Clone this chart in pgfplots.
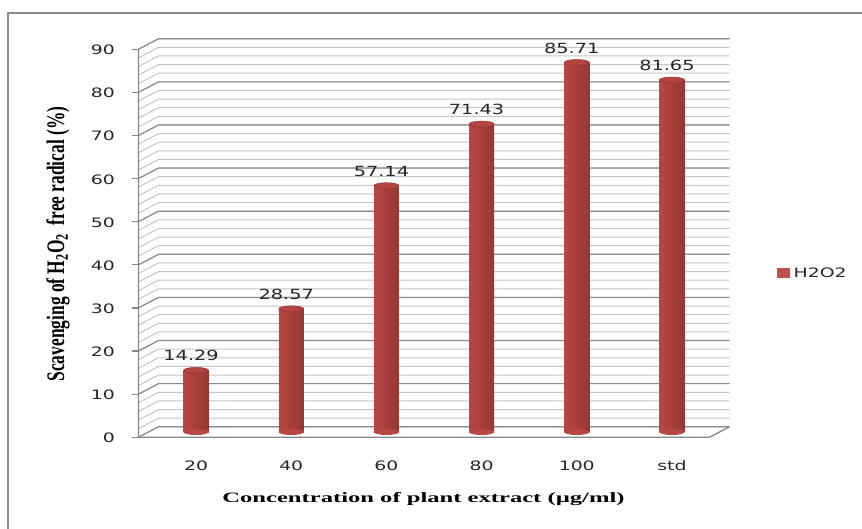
\documentclass[border=0pt]{standalone}
\usepackage{fontspec}
\setmainfont{DejaVu Sans}
\newfontfamily\tnr{Liberation Serif}
\usepackage{graphicx}
\usepackage{pgfplots}
\pgfplotsset{compat=1.18}

\definecolor{labelgray}{RGB}{38,38,38}
\definecolor{axisgray}{RGB}{134,134,134}
\definecolor{majorgrid}{RGB}{140,140,140}
\definecolor{minorgrid}{RGB}{196,196,196}
\definecolor{frame}{RGB}{140,140,140}
\definecolor{barbase}{RGB}{192,80,77}
\definecolor{barleft}{RGB}{184,70,66}
\definecolor{barmid}{RGB}{220,98,94}
\definecolor{barright}{RGB}{150,56,53}
\definecolor{capfill}{RGB}{180,68,65}
\definecolor{capdraw}{RGB}{150,54,51}

% cylinder caps
\pgfdeclareplotmark{captop}{%
  \pgfpathellipse{\pgfpointorigin}{\pgfqpoint{12.5pt}{0pt}}{\pgfqpoint{0pt}{3pt}}%
  \pgfusepathqfillstroke}
\pgfdeclareplotmark{capbot}{%
  \pgfpathellipse{\pgfpointorigin}{\pgfqpoint{12.5pt}{0pt}}{\pgfqpoint{0pt}{3pt}}%
  \pgfusepathqfill}

\newcommand\wide[1]{\scalebox{1.45}[1]{#1}}

\pgfplotsset{
  cylinder/.style={ybar, bar width=25pt, bar shift=0pt, draw=none,
    left color=barleft, middle color=barmid, right color=barright,
    nodes near coords={\scalebox{1.38}[1]{\pgfmathprintnumber[fixed,fixed zerofill,precision=2]{\pgfplotspointmeta}}},
    every node near coord/.style={anchor=center, yshift=14.5pt, xshift=-5pt,
      font=\fontsize{14}{16}\selectfont, text=labelgray, inner sep=0pt}},
}

\begin{document}
\begin{tikzpicture}
\path[use as bounding box] (0,0) rectangle (862pt,-529pt);
\draw[frame, line width=1.5pt] (8pt,-540pt) -- (8pt,-13pt) -- (870pt,-13pt);

\begin{axis}[
  at={(148.5pt,-432pt)}, anchor=south west,
  scale only axis, width=571pt, height=388pt,
  xmin=-0.5, xmax=5.5, ymin=0, ymax=90,
  clip=false,
  axis line style={draw=none},
  major tick length=0pt,
  /pgf/number format/assume math mode=true,
  xtick={0,...,5},
  xticklabels={\wide{20},\wide{40},\wide{60},\wide{80},\wide{100},\wide{std}},
  ytick={0,10,...,90},
  yticklabel={\wide{\pgfmathprintnumber{\tick}}},
  ticklabel style={font=\fontsize{13}{15}\selectfont, text=labelgray, inner sep=0pt},
  xticklabel style={anchor=center, yshift=-34pt},
  yticklabel style={anchor=east, xshift=-33.5pt, yshift=-6pt},
  xlabel={\scalebox{1.72}[1]{\tnr\bfseries Concentration of plant extract (µg/ml)}},
  ylabel={\scalebox{1}[1.45]{\tnr\bfseries Scavenging of H\textsubscript{2}O\textsubscript{2}\ \ free radical (\%)}},
  every axis x label/.style={at={(axis description cs:0.4816,-0.1727)}, anchor=center, font=\fontsize{14.3}{16}\selectfont, text=black},
  every axis y label/.style={at={(axis description cs:-0.1585,0.4845)}, anchor=center, rotate=90, font=\fontsize{17.4}{19}\selectfont, text=black},
  legend style={draw=none, fill=none, at={(axis description cs:1.1007,0.4098)}, anchor=west,
    font=\fontsize{13}{15}\selectfont, text=labelgray, inner sep=0pt,
    nodes={inner xsep=3.5pt, inner ysep=0pt}},
  legend image code/.code={\fill[left color=barbase, middle color=barbase, right color=barbase]
    (0pt,-4.5pt) rectangle (13pt,4.5pt);},
]

% side wall and back wall grid
\pgfplotsinvokeforeach{0,2,...,90}{
  \draw[minorgrid, line width=1pt]
    ([shift={(-10pt,-5.25pt)}]axis cs:-0.5,#1) --
    ([shift={(10pt,5.25pt)}]axis cs:-0.5,#1) --
    ([shift={(10pt,5.25pt)}]axis cs:5.5,#1);
}
\pgfplotsinvokeforeach{0,10,...,90}{
  \draw[majorgrid, line width=1.2pt]
    ([shift={(-10pt,-5.25pt)}]axis cs:-0.5,#1) --
    ([shift={(10pt,5.25pt)}]axis cs:-0.5,#1) --
    ([shift={(10pt,5.25pt)}]axis cs:5.5,#1);
  \draw[axisgray, line width=1.2pt]
    ([shift={(-10pt,-5.25pt)}]axis cs:-0.5,#1) -- ++(-7pt,0pt);
}
% front value axis and floor
\draw[axisgray, line width=1.3pt]
  ([shift={(-10pt,-5.25pt)}]axis cs:-0.5,90) --
  ([shift={(-10pt,-5.25pt)}]axis cs:-0.5,0) --
  ([shift={(-10pt,-5.25pt)}]axis cs:5.5,0) --
  ([shift={(10pt,5.25pt)}]axis cs:5.5,0);

% rounded cylinder bottoms
\addplot[forget plot, only marks, mark=capbot, mark options={fill=barleft}]
  coordinates {(0,0) (1,0) (2,0) (3,0) (4,0) (5,0)};

% cylinders, one per category so each gets its own shading
\addplot[cylinder] coordinates {(0,14.29)};
\addlegendentry{\scalebox{1.45}[1]{H2O2}}
\addplot[cylinder, forget plot] coordinates {(1,28.57)};
\addplot[cylinder, forget plot] coordinates {(2,57.14)};
\addplot[cylinder, forget plot] coordinates {(3,71.43)};
\addplot[cylinder, forget plot] coordinates {(4,85.71)};
\addplot[cylinder, forget plot] coordinates {(5,81.65)};

% cylinder tops
\addplot[forget plot, only marks, mark=captop, mark options={fill=capfill, draw=capdraw, line width=0.5pt}]
  coordinates {(0,14.29) (1,28.57) (2,57.14) (3,71.43) (4,85.71) (5,81.65)};
\end{axis}
\end{tikzpicture}
\end{document}
